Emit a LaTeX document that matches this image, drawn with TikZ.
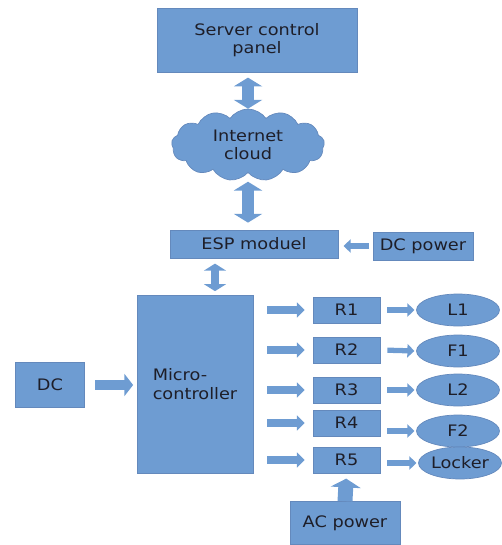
\documentclass[tikz,border=0pt]{standalone}
\usepackage{fontspec}
\setmainfont{DejaVu Sans}[FakeStretch=1.12]
\usepackage{tikz}
\usetikzlibrary{arrows.meta,positioning,shapes.geometric,shapes.symbols}
\definecolor{boxc}{HTML}{6E9CD2}
\definecolor{edgec}{HTML}{6489BC}
\definecolor{txtc}{HTML}{1E1E28}
\tikzset{
  box/.style={draw=edgec,fill=boxc,text=txtc,align=center,inner sep=2pt,font=\fontsize{9}{10.5}\selectfont},
  relay/.style={box,minimum width=1.34cm,minimum height=0.52cm},
  load/.style={box,ellipse,inner sep=0pt,minimum width=1.66cm,minimum height=0.64cm},
  thin/.style={boxc,line width=3pt,-{Triangle[length=4pt,width=7.5pt]}},
  fat/.style={boxc,line width=4pt,-{Triangle[length=4.5pt,width=8.5pt]}},
  bigfat/.style={boxc,line width=5.5pt,-{Triangle[length=5pt,width=12.5pt]}},
  dbl/.style={boxc,line width=6.5pt,{Triangle[length=5pt,width=16pt]}-{Triangle[length=5pt,width=16pt]}},
  smalldbl/.style={boxc,line width=4.5pt,{Triangle[length=4pt,width=12.5pt]}-{Triangle[length=4pt,width=12.5pt]}}
}
\begin{document}
\begin{tikzpicture}[x=0.02cm,y=-0.02cm]
\useasboundingbox (0,0) rectangle (502,545);
% top part
\node[box,minimum width=4cm,minimum height=1.28cm] (server) at (257,40) {Server control\\panel};
\node[box,cloud,cloud puffs=13,cloud puff arc=110,aspect=2.1,inner sep=0pt,minimum width=3.06cm,minimum height=1.44cm] (cloud) at (248,145) {Internet\\cloud};
\node[box,minimum width=3.36cm,minimum height=0.56cm] (esp) at (254,244) {ESP moduel};
\node[box,minimum width=2cm,minimum height=0.56cm] (dcp) at (423,246) {DC power};
% controller
\node[box,minimum width=2.32cm,minimum height=3.56cm,align=left] (mcu) at (195,384) {Micro-\\controller};
\node[box,minimum width=1.38cm,minimum height=0.9cm] (dc) at (50,385) {DC};
% relays and loads
\node[relay] (r1) at (346.5,310) {R1};
\node[relay] (r2) at (346.5,350) {R2};
\node[relay] (r3) at (346.5,390) {R3};
\node[relay] (r4) at (346.5,423) {R4};
\node[relay] (r5) at (346.5,460) {R5};
\node[load] (l1) at (458,310) {L1};
\node[load] (f1) at (458,351) {F1};
\node[load] (l2) at (458,390) {L2};
\node[load] (f2) at (458,431) {F2};
\node[load] (lock) at (460,463) {Locker};
\node[box,minimum width=2.2cm,minimum height=0.86cm] (ac) at (345,523) {AC power};
% block arrows
\draw[dbl,shorten <=3pt,shorten >=0pt] (server.south -| cloud.north) -- (cloud.north);
\draw[dbl,shorten <=5pt,shorten >=4pt] (cloud.south) -- (cloud.south |- esp.north);
\draw[smalldbl,shorten <=3pt,shorten >=2pt] (esp.south -| 215,0) -- (mcu.north -| 215,0);
\draw[thin,shorten <=2pt,shorten >=3pt] (dcp.west) -- (esp.east |- dcp.west);
\draw[bigfat,shorten <=6pt,shorten >=2pt] (dc.east) -- (mcu.west |- dc.east);
\foreach \r in {r1,r2,r3,r4,r5}
  \draw[fat,shorten <=8pt,shorten >=4.5pt] (mcu.east |- \r.west) -- (\r.west);
\draw[thin,shorten <=4pt,shorten >=1pt] (r1.east) -- (l1.west);
\draw[thin,shorten <=4pt,shorten >=1pt] (r2.east) -- (f1.west);
\draw[thin,shorten <=4pt,shorten >=1pt] (r3.east) -- (l2.west);
\draw[thin,shorten <=4pt,shorten >=1pt] (r4.east |- f2.west) -- (f2.west);
\draw[thin,shorten <=4pt,shorten >=1pt] (r5.east |- lock.west) -- (lock.west);
\draw[boxc,line width=8.5pt,-{Triangle[length=5pt,width=17pt]},shorten >=3pt] (ac.north) -- (r5.south);
\end{tikzpicture}
\end{document}
